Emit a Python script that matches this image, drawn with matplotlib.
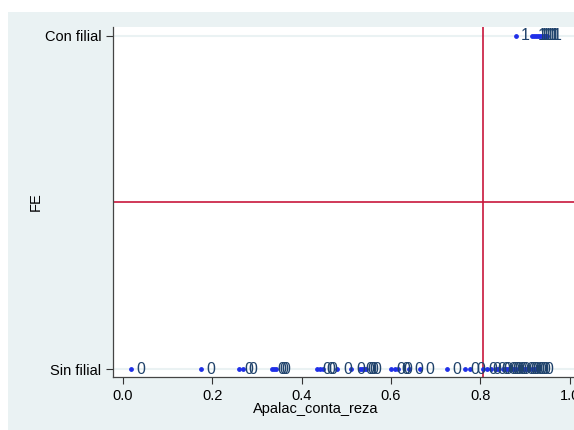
import matplotlib.pyplot as plt
from matplotlib.patches import Rectangle

plt.rcParams['font.family'] = ['Liberation Sans', 'DejaVu Sans']

# Apalac_conta_reza values for each group
sin_filial = [0.017, 0.174, 0.259, 0.268, 0.333, 0.338, 0.343, 0.435, 0.442, 0.447,
              0.48, 0.51, 0.53, 0.535, 0.54, 0.545, 0.60, 0.61, 0.615, 0.64, 0.665,
              0.725, 0.765, 0.778, 0.805, 0.815, 0.825, 0.835, 0.84, 0.85, 0.855,
              0.86, 0.865, 0.87, 0.875, 0.88, 0.89, 0.895, 0.90, 0.905, 0.91, 0.915,
              0.92, 0.925, 0.93]
con_filial = [0.879, 0.916, 0.92, 0.925, 0.93, 0.934, 0.938, 0.942, 0.946, 0.95]
y_labels = ["Sin filial", "Con filial"]
vline_x = 0.807
hline_y = 0.5

fig = plt.figure(figsize=(5.74, 4.30), dpi=100)
fig.patch.set_facecolor('white')
bg = Rectangle((8 / 574, 0), 1, 1 - 12 / 430, transform=fig.transFigure,
               facecolor='#eaf2f3', edgecolor='none', zorder=-5)
fig.add_artist(bg)

ax = fig.add_axes([113 / 574, 53 / 430, 470 / 574, 350 / 430])
ax.set_zorder(1)
ax.set_facecolor('white')

dot_col = '#1f2fe8'
lab_col = '#1f426b'
for grp, vals in enumerate([sin_filial, con_filial]):
    ax.scatter(vals, [grp] * len(vals), s=6, color=dot_col, zorder=3)
    for v in vals:
        ax.annotate(str(grp), (v, grp), xytext=(4, 0), textcoords='offset points',
                    ha='left', va='center', fontsize=11.5, color=lab_col, zorder=4)

ax.axvline(vline_x, color='#c8163c', lw=1.2, zorder=2)
ax.axhline(hline_y, color='#c8163c', lw=1.2, zorder=2)
for g in [0, 1]:
    ax.axhline(g, color='#eaf2f3', lw=1.5, zorder=1)

ax.set_xlim(-0.0224, 1.03)
ax.set_ylim(-0.024, 1.027)
ax.set_xticks([0.0, 0.2, 0.4, 0.6, 0.8, 1.0])
ax.set_xticklabels(["0.0", "0.2", "0.4", "0.6", "0.8", "1.0"])
ax.set_yticks([0, 1])
ax.set_yticklabels(y_labels)
ax.tick_params(axis='both', labelsize=10.5, length=5, color='#333333', width=0.8)

for side in ['top', 'right']:
    ax.spines[side].set_visible(False)
for side in ['left', 'bottom']:
    ax.spines[side].set_color('#444444')
    ax.spines[side].set_linewidth(0.9)

ax.set_xlabel("Apalac_conta_reza", fontsize=10.5, labelpad=1)
ax.xaxis.set_label_coords(0.432, -0.07)
ax.set_ylabel("FE", fontsize=10.5)
ax.yaxis.set_label_coords(-0.15, 0.5)

fig.savefig('out.png', dpi=100)
